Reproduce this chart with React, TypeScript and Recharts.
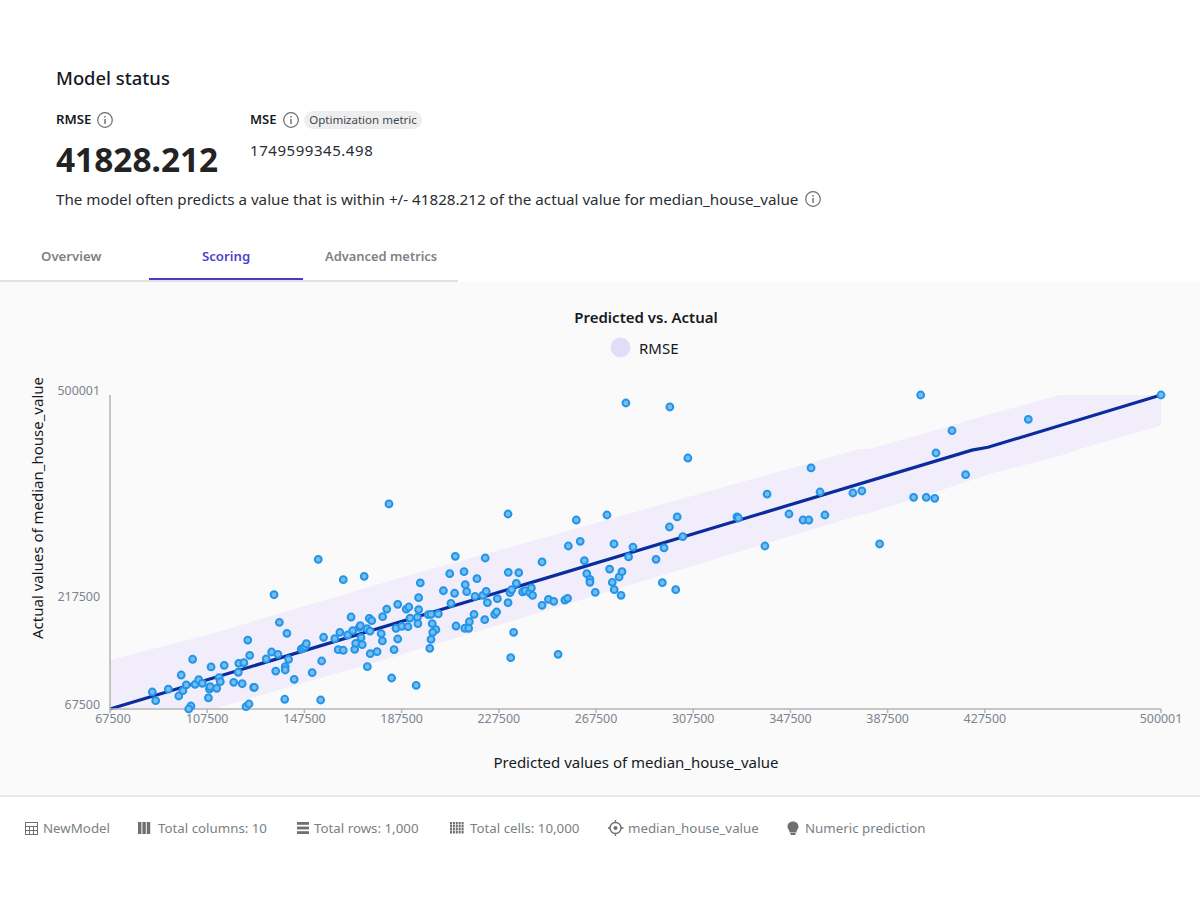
import React from "react";
import { ComposedChart, XAxis, YAxis, Area, Line, Scatter, Label } from "recharts";

const predicted = [84900,86300,91500,95800,97500,96800,98900,101500,100800,99900,102500,104000,105500,108000,108400,108700,109100,111400,112400,112900,114500,118400,120300,120500,122600,121900,124200,125000,123500,124700,126600,126900,131800,134000,135700,136600,135000,137200,140300,141000,139600,139600,139400,143300,146200,146800,147700,148300,150700,153200,154200,154600,155400,160000,161400,162100,163500,163500,165300,166700,167400,168200,168600,170100,170500,170800,171300,172100,173400,173300,174500,174200,175200,174600,177400,179100,179600,179700,181400,183400,184400,185200,185900,185900,189400,190500,194500,195200,194500,191000,187500,190100,194000,194200,193500,198500,199600,200100,201600,200300,199600,199100,202600,204700,207300,209300,209600,207800,209900,213200,213700,214300,213500,215100,215400,217300,217700,218500,220900,221900,222300,222800,221700,225800,226600,226900,231400,231300,232100,232800,234700,235700,233600,232400,237300,238300,240200,240900,241400,245300,245300,247900,250100,251900,254700,255800,256100,261000,259400,262700,263700,265000,265000,267200,273100,274200,275000,274900,277000,278200,277800,280900,282700,292200,294800,300300,295500,297700,300900,303200,272000,279800,297900,305300,182300,231300,325500,326100,337000,337900,346900,352700,355100,356000,359700,361700,373200,376900,384200,398200,403400,406900,401100,414000,407400,419600,445400,500001];
const actual = [90900,78900,95000,85400,92700,114300,100600,136000,71600,67500,101500,107900,102900,82700,95000,98200,125400,96000,110600,105100,127700,104300,118100,130400,131300,102300,162500,141500,70700,74400,97400,97400,136400,146000,119800,142800,224900,186900,171800,136000,125800,121200,80900,108400,150100,151100,153300,157400,117500,273700,79900,133600,166300,164300,149200,173100,148400,245600,169400,194200,175400,149700,158000,180000,182200,165700,156100,250300,125800,178100,174900,192400,189100,143700,146400,171200,161200,194600,205200,110200,149200,178700,163900,211700,205200,208000,220800,241100,204300,192800,181400,180900,193800,185000,100100,197400,197900,185000,176700,173100,163500,151100,198400,230400,253900,226900,277800,213100,181800,256600,238700,229100,178700,178700,187700,197900,222700,247000,224100,275500,229600,213900,190500,197900,201100,219400,255800,213900,227700,231800,240600,255200,173100,138200,228700,230400,227700,234200,224100,270000,210300,218600,215800,142800,217600,220000,292000,298500,327800,271800,253900,246100,242000,228200,260300,242000,231800,294800,249300,256600,224100,276900,290600,273700,241500,231800,289300,318200,332000,304800,334700,489000,483500,413200,349900,336100,332000,330600,292000,363600,336100,327800,327800,399500,366400,334700,365000,367800,294800,359100,359100,357700,500000,450800,420100,390200,466500,500001];

const fitX = [67500,422200,428800,500001];
const fitY = [67500,424000,428000,500001];
const bandX = [67500,110000,186800,376000,380000,406200,430900,458400,466700,500001];
const bandLow = [67500,67500,141900,334700,337500,365000,392600,416000,425600,458000];
const bandHigh = [135000,172000,248000,425600,425600,450600,475000,500001,500001,500001];

const xTicks = [67500,107500,147500,187500,227500,267500,307500,347500,387500,427500,500001];
const yTicks = [67500,217500,500001];

const points = predicted.map((x, i) => ({ x, y: actual[i] }));
const fit = fitX.map((x, i) => ({ x, y: fitY[i] }));
const band = bandX.map((x, i) => ({ x, range: [bandLow[i], bandHigh[i]] }));

const FONT = "'Noto Sans', sans-serif";

const txt = (left: number, top: number, s: React.CSSProperties = {}): React.CSSProperties => ({
  position: "absolute", left, top, whiteSpace: "nowrap", lineHeight: "20px", ...s,
});

function Info({ x, y }: { x: number; y: number }) {
  return (
    <svg width="18" height="18" viewBox="0 0 18 18" style={{ position: "absolute", left: x, top: y }}>
      <circle cx="9" cy="9" r="7.3" fill="none" stroke="#6b6b6b" strokeWidth="1.2" />
      <rect x="8.3" y="8" width="1.4" height="5" fill="#6b6b6b" />
      <rect x="8.3" y="5" width="1.4" height="1.6" fill="#6b6b6b" />
    </svg>
  );
}

function Dot(p: any) {
  return <circle cx={p.cx} cy={p.cy} r={3.4} fill="#79bbee" stroke="#2196e8" strokeWidth={2} />;
}

function XTick(p: any) {
  const shift = p.index === 0 ? 3 : 0;
  return (
    <text x={p.x + shift} y={p.y + 8} textAnchor="middle" fontSize={12.4} fill="#7b8490" fontFamily={FONT}>
      {p.payload.value}
    </text>
  );
}

const footer = [
  { left: 43, label: "NewModel" },
  { left: 158, label: "Total columns: 10" },
  { left: 314, label: "Total rows: 1,000" },
  { left: 470, label: "Total cells: 10,000" },
  { left: 628, label: "median_house_value" },
  { left: 805, label: "Numeric prediction" },
];

function FootIcons() {
  const c = "#6f6f6f";
  return (
    <svg width="900" height="20" style={{ position: "absolute", left: 0, top: 818 }}>
      <g fill="none" stroke={c} strokeWidth="1">
        <rect x="25.5" y="4.5" width="12" height="12" />
        <path d="M25.5 8.5h12M25.5 12.5h12M29.5 8.5v8M33.5 8.5v8" />
      </g>
      <g fill={c}>
        <rect x="138" y="4" width="3.4" height="12" />
        <rect x="142.4" y="4" width="3.4" height="12" />
        <rect x="146.8" y="4" width="3.4" height="12" />
        <rect x="297" y="4" width="12" height="2.8" />
        <rect x="297" y="8.6" width="12" height="2.8" />
        <rect x="297" y="13.2" width="12" height="2.8" />
      </g>
      <g fill="none" stroke={c} strokeWidth="2.6" strokeDasharray="2 0.9">
        <path d="M450 5.3h14M450 8.3h14M450 11.3h14M450 14.3h14" />
      </g>
      <g fill="none" stroke={c} strokeWidth="1.4">
        <circle cx="615.5" cy="10" r="5.5" />
        <path d="M615.5 2v3M615.5 15v3M608 10h2.5M620.5 10h3" />
      </g>
      <circle cx="615.5" cy="10" r="2" fill={c} />
      <path d="M793 3.5c3.5 0 5.5 2.5 5.5 5 0 2-1.200 3-2 4.500v1.500h-7v-1.500c-.8-1.500-2-2.500-2-4.500 0-2.500 2-5 5.500-5z" fill={c} />
      <rect x="790.500" y="15" width="5" height="2" fill={c} />
    </svg>
  );
}

export default function App() {
  return (
    <div style={{ position: "absolute", left: 0, top: 0, width: 1200, height: 900, background: "#fff", fontFamily: FONT, color: "#16191f", overflow: "hidden" }}>
      <div style={txt(56, 68, { fontSize: 18.4, fontWeight: 500 })}>Model status</div>
      <div style={txt(56, 109, { fontSize: 13.2, fontWeight: 600 })}>RMSE</div>
      <Info x={96} y={111} />
      <div style={txt(56, 148, { fontSize: 33.4, fontWeight: 700, lineHeight: "22px", color: "#232323" })}>41828.212</div>
      <div style={txt(250, 109, { fontSize: 13, fontWeight: 600 })}>MSE</div>
      <Info x={282} y={111} />
      <div style={{ position: "absolute", left: 304, top: 111, width: 118, height: 18, borderRadius: 9, background: "#eeeeee", fontSize: 11.5, lineHeight: "18px", textAlign: "center", color: "#414750" }}>Optimization metric</div>
      <div style={txt(250, 140, { fontSize: 15, color: "#2a2e33", letterSpacing: 0.55 })}>1749599345.498</div>
      <div style={txt(56, 189, { fontSize: 15.2, color: "#2a2e33" })}>The model often predicts a value that is within +/- 41828.212 of the actual value for median_house_value</div>
      <Info x={804} y={190} />

      <div style={txt(41, 246, { fontSize: 13.2, fontWeight: 600, color: "#7d8287" })}>Overview</div>
      <div style={txt(202, 246, { fontSize: 13.2, fontWeight: 600, color: "#4f3fd0" })}>Scoring</div>
      <div style={txt(325, 246, { fontSize: 12.9, fontWeight: 600, color: "#7d8287" })}>Advanced metrics</div>
      <div style={{ position: "absolute", left: 149, top: 278, width: 154, height: 2, background: "#4a3cc8" }} />
      <div style={{ position: "absolute", left: 0, top: 280, width: 458, height: 2, background: "#e2e2e2" }} />

      <div style={{ position: "absolute", left: 0, top: 282, width: 1200, height: 513, background: "#fafafa", borderBottom: "2px solid #e8e8e8", boxSizing: "content-box" }}>
        <ComposedChart
          width={1200}
          height={514}
          margin={{ top: 113, right: 39, bottom: 57, left: 50 }}
        >
          <XAxis
            type="number"
            dataKey="x"
            domain={[67500, 500001]}
            ticks={xTicks}
            interval={0}
            height={30}
            tickSize={4}
            tick={XTick}
            stroke="#b5b5b5"
            strokeWidth={1.5}
          >
            <Label
              content={() => (
                <text x={636} y={486} textAnchor="middle" fontSize={15} fill="#16191f" fontFamily={FONT}>
                  Predicted values of median_house_value
                </text>
              )}
            />
          </XAxis>
          <YAxis
            type="number"
            dataKey="y"
            domain={[67500, 500001]}
            ticks={yTicks}
            interval={0}
            width={60}
            tickLine={false}
            tickMargin={4}
            tick={{ fontSize: 12.4, fill: "#7b8490", fontFamily: FONT, dy: -4 }}
            stroke="#b5b5b5"
            strokeWidth={1.5}
          >
            <Label
              content={() => (
                <text x={43} y={226} transform="rotate(-90 43 226)" textAnchor="middle" fontSize={15} fill="#16191f" fontFamily={FONT}>
                  Actual values of median_house_value
                </text>
              )}
            />
          </YAxis>
          <Area data={band} dataKey="range" type="linear" stroke="none" fill="#f1edfb" fillOpacity={1} isAnimationActive={false} dot={false} activeDot={false} />
          <Scatter data={points} dataKey="y" shape={Dot} isAnimationActive={false} />
          <Line data={fit} dataKey="y" type="linear" stroke="#0a2c9c" strokeWidth={3.2} dot={false} activeDot={false} isAnimationActive={false} />
        </ComposedChart>
      </div>

      <div style={{ position: "absolute", left: 446, width: 400, top: 307, textAlign: "center", fontSize: 15, fontWeight: 600, lineHeight: "20px" }}>Predicted vs. Actual</div>
      <svg width="22" height="22" style={{ position: "absolute", left: 610, top: 337 }}><circle cx="10.500" cy="10.500" r="10" fill="#e3dcf8" /></svg>
      <div style={txt(639, 338, { fontSize: 15 })}>RMSE</div>

      <FootIcons />
      {footer.map((f) => (
        <div key={f.label} style={txt(f.left, 818, { fontSize: 13.3, color: "#7a7f85" })}>{f.label}</div>
      ))}
    </div>
  );
}
